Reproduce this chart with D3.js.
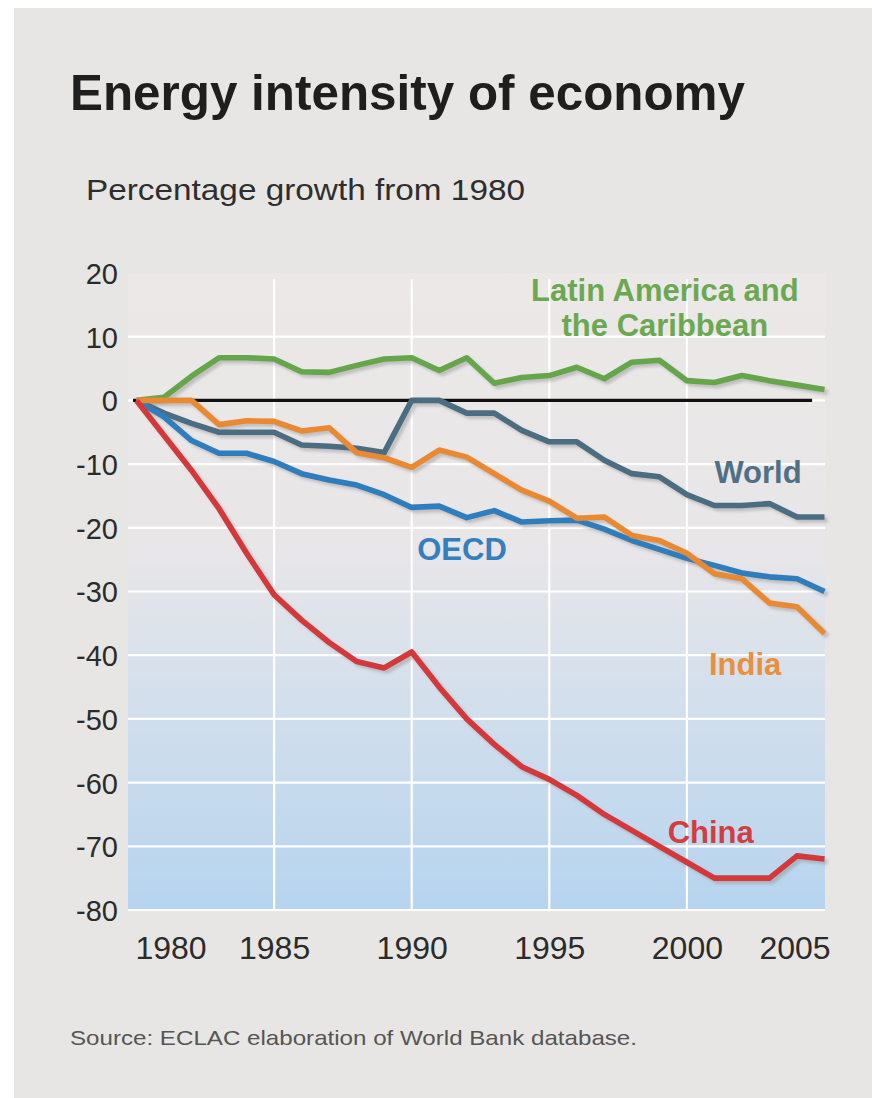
<!DOCTYPE html>
<html>
<head>
<meta charset="utf-8">
<script src="https://cdn.jsdelivr.net/npm/d3@7"></script>
<style>
  html, body { margin: 0; padding: 0; background: #ffffff; overflow: hidden; }
  svg { display: block; }
  text { font-family: "Liberation Sans", Arial, Helvetica, sans-serif; }
</style>
</head>
<body>
<svg id="chart" width="872" height="1098"></svg>
<script>
// Energy intensity, percentage growth from 1980
const years = d3.range(1980, 2006);
const latinAmerica = [0, 0.5, 3.8, 6.7, 6.7, 6.5, 4.5, 4.4, 5.5, 6.5, 6.7, 4.7, 6.7, 2.7, 3.6, 3.9, 5.2, 3.4, 6.0, 6.3, 3.1, 2.8, 3.9, 3.1, 2.4, 1.7];
const world = [0, -2, -3.6, -5, -5, -5, -7, -7.2, -7.5, -8.2, 0, 0, -2, -2, -4.7, -6.5, -6.5, -9.4, -11.5, -12, -14.8, -16.5, -16.5, -16.2, -18.3, -18.3];
const oecd = [0, -2.6, -6.3, -8.3, -8.3, -9.6, -11.5, -12.5, -13.3, -14.8, -16.8, -16.6, -18.4, -17.3, -19.1, -18.9, -18.8, -20.2, -22.0, -23.4, -24.8, -25.9, -27.1, -27.7, -28.0, -30.0];
const india = [0, 0, 0, -3.8, -3.2, -3.3, -4.8, -4.3, -8.2, -9, -10.5, -7.8, -8.9, -11.5, -14.1, -15.8, -18.5, -18.3, -21.2, -22, -24, -27.2, -28, -31.8, -32.4, -36.6];
const china = [0, -5.5, -11, -17, -24, -30.5, -34.5, -38, -41, -42, -39.5, -45, -50, -54, -57.5, -59.5, -62, -65, -67.5, -70, -72.5, -75, -75, -75, -71.5, -72];

const yTicks = [20, 10, 0, -10, -20, -30, -40, -50, -60, -70, -80];
const xTicks = [1980, 1985, 1990, 1995, 2000, 2005];
const xGrid = [1985, 1990, 1995, 2000];

const series = [
  { name: "Latin America", values: latinAmerica, color: "#65a64b", label: ["Latin America and", "the Caribbean"], at: [1999.2, 15.6], anchor: "middle", lineGap: 5.5, textColor: "#6aa851" },
  { name: "World", values: world, color: "#4a6d82", label: ["World"], at: [2001.0, -13.0], anchor: "start", textColor: "#4f7086" },
  { name: "OECD", values: oecd, color: "#2f7dbd", label: ["OECD"], at: [1990.2, -25.1], anchor: "start", textColor: "#3480bf" },
  { name: "India", values: india, color: "#e98a33", label: ["India"], at: [2000.8, -43.1], anchor: "start", textColor: "#e8903c" },
  { name: "China", values: china, color: "#d3383a", label: ["China"], at: [1999.3, -69.5], anchor: "start", textColor: "#d23d40" }
];

const svg = d3.select("#chart");

// panel background
svg.append("rect").attr("x", 14).attr("y", 8).attr("width", 858).attr("height", 1090).attr("fill", "#e8e6e4");

const x = d3.scaleLinear().domain([1980, 2005]).range([136.5, 824.5]);
const y = d3.scaleLinear().domain([-80, 20]).range([910, 273]);

const defs = svg.append("defs");
const grad = defs.append("linearGradient").attr("id", "plotBg").attr("x1", 0).attr("y1", 0).attr("x2", 0).attr("y2", 1);
grad.append("stop").attr("offset", "0%").attr("stop-color", "#ebe8e7");
grad.append("stop").attr("offset", "42%").attr("stop-color", "#e9e6e8");
grad.append("stop").attr("offset", "58%").attr("stop-color", "#dbe2eb");
grad.append("stop").attr("offset", "100%").attr("stop-color", "#b6d4ef");

const blur = defs.append("filter").attr("id", "soft").attr("x", "-5%").attr("y", "-5%").attr("width", "110%").attr("height", "110%");
blur.append("feGaussianBlur").attr("stdDeviation", 1.6);

const plotLeft = 128, plotRight = 825;
svg.append("rect")
  .attr("x", plotLeft).attr("y", y(20))
  .attr("width", plotRight - plotLeft).attr("height", y(-80) - y(20))
  .attr("fill", "url(#plotBg)");

// white grid
const grid = svg.append("g").attr("stroke", "#ffffff").attr("stroke-width", 2.2);
grid.selectAll("line.h").data(yTicks.filter(v => v < 20)).join("line")
  .attr("x1", plotLeft).attr("x2", plotRight)
  .attr("y1", d => y(d)).attr("y2", d => y(d));
grid.selectAll("line.v").data(xGrid).join("line")
  .attr("x1", d => x(d)).attr("x2", d => x(d))
  .attr("y1", y(19)).attr("y2", y(-80));

// zero baseline
svg.append("line")
  .attr("x1", plotLeft + 5).attr("x2", x(2004.55))
  .attr("y1", y(0)).attr("y2", y(0))
  .attr("stroke", "#111111").attr("stroke-width", 3.2);

// axes (plain hyphen for negative ticks)
const yAxis = d3.axisLeft(y).tickValues(yTicks).tickSize(0).tickPadding(0).tickFormat(d => String(d));
const gy = svg.append("g").attr("transform", "translate(118,0)").call(yAxis);
gy.select(".domain").remove();
gy.selectAll("text").attr("font-size", 29).attr("fill", "#2b2b2b").attr("dy", "0.36em")
  .attr("font-family", "'Liberation Sans', Arial, sans-serif");

const xAxis = d3.axisBottom(x).tickValues(xTicks).tickSize(0).tickPadding(0).tickFormat(d => String(d));
const gx = svg.append("g").attr("transform", "translate(0,930)").call(xAxis);
gx.select(".domain").remove();
gx.selectAll("text").attr("font-size", 32).attr("fill", "#2b2b2b").attr("dy", "0.9em")
  .attr("font-family", "'Liberation Sans', Arial, sans-serif")
  .attr("dx", d => d === 1980 ? 34 : d === 2005 ? -30 : 0);

// lines
const line = d3.line().x((d, i) => x(years[i])).y(d => y(d)).curve(d3.curveLinear);

const shadows = svg.append("g").attr("filter", "url(#soft)");
series.forEach(s => {
  shadows.append("path").datum(s.values)
    .attr("d", line).attr("fill", "none")
    .attr("stroke", "#8c8c8c").attr("stroke-opacity", 0.45)
    .attr("stroke-width", 5.5).attr("stroke-linejoin", "round")
    .attr("transform", "translate(3,3)");
});

const lines = svg.append("g");
series.forEach(s => {
  lines.append("path").datum(s.values)
    .attr("d", line).attr("fill", "none")
    .attr("stroke", s.color).attr("stroke-width", 5.6)
    .attr("stroke-linejoin", "round");
});

// series labels
series.forEach(s => {
  const t = svg.append("text")
    .attr("x", x(s.at[0])).attr("y", y(s.at[1]))
    .attr("text-anchor", s.anchor)
    .attr("font-size", 31).attr("font-weight", "bold")
    .attr("fill", s.textColor);
  s.label.forEach((ln, i) => {
    t.append("tspan").attr("x", x(s.at[0])).attr("y", y(s.at[1] - i * (s.lineGap || 0))).text(ln);
  });
});

// title, subtitle, source
svg.append("text").attr("x", 70).attr("y", 110)
  .attr("font-size", 50).attr("font-weight", "bold").attr("fill", "#1e1e1e")
  .attr("textLength", 675).attr("lengthAdjust", "spacingAndGlyphs")
  .text("Energy intensity of economy");

svg.append("text").attr("x", 86).attr("y", 200)
  .attr("font-size", 30).attr("fill", "#2e2e2e")
  .attr("textLength", 439).attr("lengthAdjust", "spacingAndGlyphs")
  .text("Percentage growth from 1980");

svg.append("text").attr("x", 70).attr("y", 1045)
  .attr("font-size", 21).attr("fill", "#555555")
  .attr("textLength", 567).attr("lengthAdjust", "spacingAndGlyphs")
  .text("Source: ECLAC elaboration of World Bank database.");
</script>
</body>
</html>
